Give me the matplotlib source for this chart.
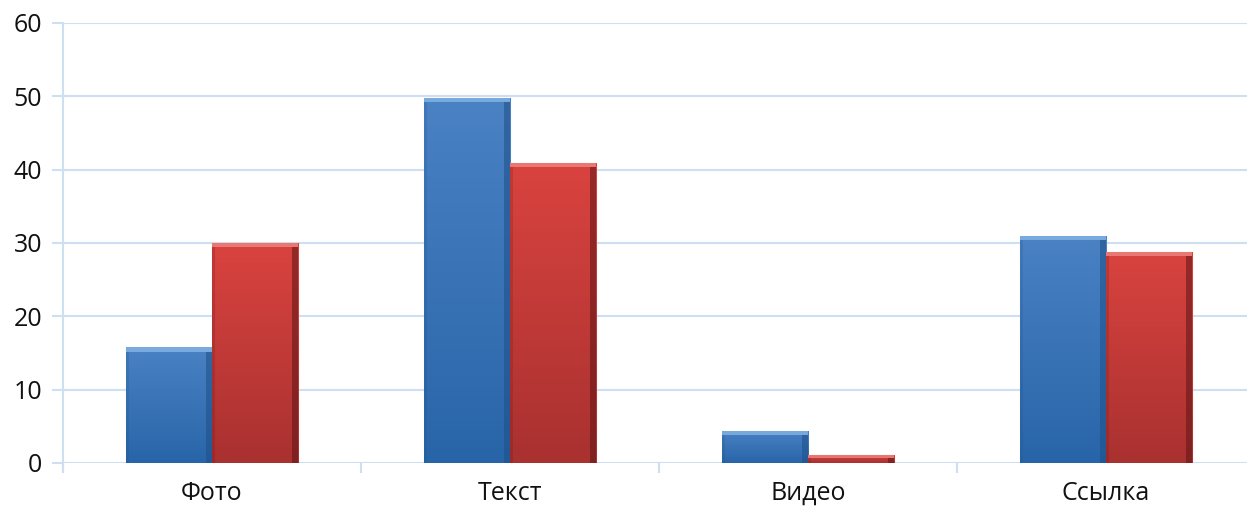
import numpy as np
import matplotlib
matplotlib.use('Agg')
import matplotlib.pyplot as plt
from matplotlib import font_manager
from matplotlib.colors import LinearSegmentedColormap

categories = ['Фото', 'Текст', 'Видео', 'Ссылка']
series_blue = [15.8, 49.8, 4.4, 31.0]
series_red = [30.0, 40.9, 1.1, 28.8]
yticks = [0, 10, 20, 30, 40, 50, 60]

# pick a regular-weight geometric face if one exists, else Open Sans
fam = 'Open Sans'
for f in font_manager.fontManager.ttflist:
    if f.name == 'Montserrat' and f.weight in (400, 'normal', 'regular') and f.style == 'normal':
        fam = 'Montserrat'
        break
plt.rcParams.update({'font.family': [fam, 'DejaVu Sans'], 'font.size': 15})

fig = plt.figure(figsize=(12.47, 5.09), dpi=100)
ax = fig.add_axes([63 / 1247, 46 / 509, 1192 / 1247, 440 / 509])

grid_c = '#cfdff2'
x = np.arange(len(categories))
w = 0.29


def draw_bars(xs, vals, bottom_c, top_c, light, dark, edge):
    bars = ax.bar(xs, vals, w, color=top_c, edgecolor=edge, linewidth=0.8, zorder=3)
    for b in bars:
        x0, y0 = b.get_x(), b.get_y()
        bw, bh = b.get_width(), b.get_height()
        grad = np.linspace(0, 1, 100).reshape(-1, 1)
        cm = LinearSegmentedColormap.from_list('g', [bottom_c, top_c])
        im = ax.imshow(grad, cmap=cm, aspect='auto', origin='lower',
                       extent=[x0, x0 + bw, y0, y0 + bh], zorder=3.5)
        im.set_clip_path(b)
        # bevel: light cap, dark right side, soft left side
        cap = min(0.6, bh * 0.4)
        ax.fill_between([x0, x0 + bw], y0 + bh - cap, y0 + bh, color=light,
                        alpha=0.75, lw=0, zorder=4)
        ax.fill_between([x0 + bw * 0.93, x0 + bw], y0, y0 + bh - cap, color=dark,
                        alpha=0.55, lw=0, zorder=4)
        ax.fill_between([x0, x0 + bw * 0.04], y0, y0 + bh - cap, color=dark,
                        alpha=0.2, lw=0, zorder=4)


draw_bars(x - w / 2, series_blue, '#2865a8', '#4a82c4', '#8ab8e6', '#1d4f88', '#f0b8b8')
draw_bars(x + w / 2, series_red, '#a93130', '#d9433f', '#f08a84', '#5e1414', '#f2b4ac')

ax.set_xlim(-0.5, 3.5)
ax.set_ylim(0, 60)
ax.set_yticks(yticks)
ax.set_xticks(x)
ax.set_xticklabels(categories)
ax.set_xticks(np.arange(-0.5, 4.0, 1.0), minor=True)
ax.grid(axis='y', color=grid_c, linewidth=1.5, zorder=0)
ax.set_axisbelow(True)

for s in ['top', 'right', 'bottom']:
    ax.spines[s].set_visible(False)
ax.spines['left'].set_color(grid_c)
ax.spines['left'].set_linewidth(1.5)
ax.spines['left'].set_bounds(-1.2, 60)

ax.tick_params(axis='y', length=8, width=1.5, color=grid_c, pad=7, labelsize=18, labelcolor='#111111')
ax.tick_params(axis='x', which='major', length=0, pad=13, labelsize=18, labelcolor='#111111')
ax.tick_params(axis='x', which='minor', length=7, width=1.5, color=grid_c)

fig.savefig('out.png', dpi=100)
